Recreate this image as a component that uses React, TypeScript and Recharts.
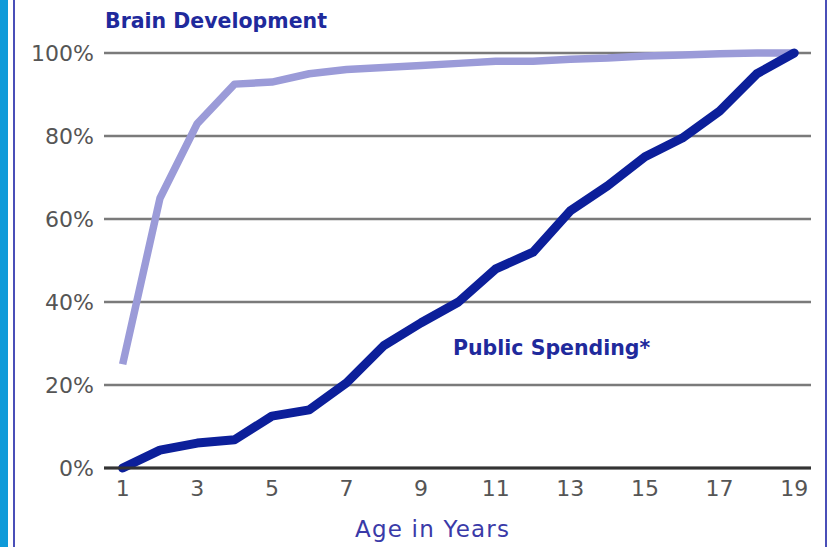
import React from "react";
import { LineChart, Line, XAxis, YAxis, CartesianGrid } from "recharts";

const ages = [1, 2, 3, 4, 5, 6, 7, 8, 9, 10, 11, 12, 13, 14, 15, 16, 17, 18, 19];
const brainDevelopment = [25, 65, 83, 92.5, 93, 95, 96, 96.5, 97, 97.5, 98, 98, 98.5, 98.8, 99.3, 99.5, 99.8, 100, 100];
const publicSpending = [0, 4.3, 6, 6.8, 12.5, 14, 20.5, 29.5, 35, 40, 48, 52, 62, 68, 75, 79.5, 86, 95, 100];
const xTicks = [1, 3, 5, 7, 9, 11, 13, 15, 17, 19];
const yTicks = [0, 20, 40, 60, 80, 100];

const data = ages.map((age, i) => ({
  age,
  brain: brainDevelopment[i],
  spending: publicSpending[i],
}));

const FONT = "'DejaVu Sans', sans-serif";

export default function App() {
  return (
    <div style={{ position: "absolute", left: 0, top: 0, width: 828, height: 547, background: "#fff", overflow: "hidden" }}>
      <div style={{ position: "absolute", left: 0, top: 0, width: 8, height: 547, background: "#0e9ad9" }} />
      <div style={{ position: "absolute", left: 13, top: 0, width: 2, height: 547, background: "#4a4fb8" }} />
      <div style={{ position: "absolute", left: 825, top: 0, width: 2, height: 547, background: "#4a4fb8" }} />
      <LineChart
        width={828}
        height={547}
        data={data}
        margin={{ top: 53, right: 17, bottom: 39, left: 44 }}
        style={{ position: "absolute", left: 0, top: 0 }}
      >
        <CartesianGrid vertical={false} stroke="#7a7a7a" strokeWidth={2.5} />
        <XAxis
          dataKey="age"
          type="number"
          domain={[0.5, 19.45]}
          ticks={xTicks}
          height={40}
          tickLine={false}
          axisLine={{ stroke: "#333", strokeWidth: 3 }}
          tick={{ fill: "#555", fontSize: 22, fontFamily: FONT }}
          tickMargin={6}
          interval={0}
        />
        <YAxis
          type="number"
          domain={[0, 100]}
          ticks={yTicks}
          width={60}
          tickLine={false}
          axisLine={false}
          tickFormatter={(v: number) => `${v}%`}
          tick={{ fill: "#555", fontSize: 22, fontFamily: FONT }}
          tickMargin={4}
          interval={0}
        />
        <Line
          dataKey="brain"
          type="linear"
          stroke="#9b9bd8"
          strokeWidth={7.5}
          dot={false}
          isAnimationActive={false}
          strokeLinejoin="round"
        />
        <Line
          dataKey="spending"
          type="linear"
          stroke="#0c1f9a"
          strokeWidth={9}
          dot={false}
          isAnimationActive={false}
          strokeLinejoin="round"
          strokeLinecap="round"
        />
      </LineChart>
      <div style={{ position: "absolute", left: 105, top: 9, fontFamily: FONT, fontWeight: "bold", fontSize: 20.5, color: "#1f2a9c", whiteSpace: "nowrap" }}>
        Brain Development
      </div>
      <div style={{ position: "absolute", left: 453, top: 336, fontFamily: FONT, fontWeight: "bold", fontSize: 20.5, color: "#1f2a9c", whiteSpace: "nowrap" }}>
        Public Spending*
      </div>
      <div style={{ position: "absolute", left: 355, top: 516, fontFamily: FONT, fontSize: 23, letterSpacing: 1.2, color: "#3a3aa8", whiteSpace: "nowrap" }}>
        Age in Years
      </div>
    </div>
  );
}
